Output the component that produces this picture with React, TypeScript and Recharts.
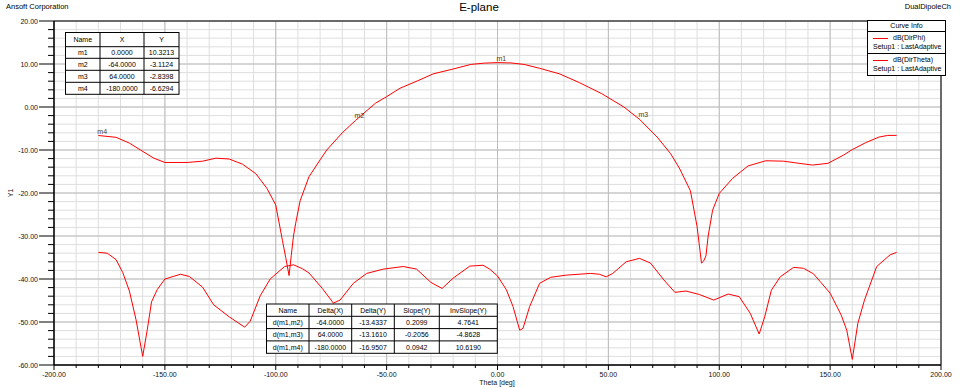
import React from 'react';
import { LineChart, Line, XAxis, YAxis, CartesianGrid, ReferenceArea, ReferenceDot, Legend } from 'recharts';

// dB(DirPhi)
const thetaPhi = [
  -180, -172, -166, -161, -155, -150, -140, -133, -127, -121, -115, -109, -104, -100, -97, -95.5, -94, -93, -92, -91,
  -89, -85, -80, -77, -70, -64, -55, -50, -44, -36, -29, -20, -12, -6, 0, 6, 12, 19, 28, 37,
  47, 57, 64, 72, 78, 82, 87, 90, 92, 93, 94, 95, 97, 100, 106, 113, 121, 129, 136, 142,
  149, 156, 160, 166, 172, 176, 180,
];
const dirPhi = [
  -6.63, -7.05, -8.4, -10.0, -11.9, -12.9, -12.9, -12.6, -11.9, -12.1, -13.3, -15.5, -18.9, -22.8, -31.0, -35.0, -39.2, -34.5, -30.0, -27.0,
  -21.8, -16.2, -12.3, -10.0, -6.0, -3.11, 0.9, 2.4, 4.35, 6.1, 7.7, 8.84, 9.9, 10.2, 10.32, 10.25, 9.9, 9.0, 7.7, 5.65,
  3.1, 0.0, -2.84, -7.0, -10.8, -14.2, -19.5, -27.8, -36.3, -35.8, -34.6, -30.0, -24.0, -20.1, -16.6, -13.7, -12.5, -12.6, -13.1, -13.5,
  -13.1, -11.2, -9.9, -8.3, -7.0, -6.6, -6.6,
];

// dB(DirTheta)
const thetaTheta = [
  -180, -176, -172, -169, -166, -163, -160, -158, -156, -153.5, -150, -143, -139, -133, -128, -121, -114, -111.5, -107, -102.5,
  -96, -92, -88, -85, -79, -74, -71, -65, -59, -51.5, -42.5, -36.5, -30, -25, -20, -12.5, -6.5, -3.5, 0, 4,
  7, 10, 11.5, 14.5, 19, 24, 31, 42, 46, 49, 52, 58, 64, 69, 75, 80, 85, 91, 97.5, 104,
  109, 114, 118, 120.5, 123.5, 127.5, 133.5, 138, 142.5, 145.5, 150, 155, 157.5, 160, 162.5, 165.5, 171, 177, 180,
];
const dirTheta = [
  -33.8, -34.0, -35.5, -38.5, -42.8, -49.5, -58.0, -52.0, -45.3, -42.5, -40.0, -38.9, -39.4, -41.9, -46.0, -48.8, -51.2, -49.8, -43.9, -40.0,
  -37.1, -36.7, -37.6, -38.6, -42.2, -45.6, -44.9, -41.0, -38.7, -37.7, -37.1, -37.7, -40.8, -42.2, -39.8, -37.0, -36.8, -37.7, -39.3, -42.5,
  -46.4, -51.9, -51.5, -46.4, -41.0, -39.6, -39.1, -38.7, -38.9, -39.5, -38.7, -36.0, -35.2, -36.3, -40.2, -43.1, -42.8, -43.6, -44.9, -43.5,
  -44.1, -48.0, -52.8, -48.8, -42.6, -39.5, -37.3, -37.5, -38.8, -40.6, -43.3, -48.4, -51.9, -58.7, -50.3, -44.9, -37.1, -34.4, -33.8,
];

// markers
const markerNames = ['m1', 'm2', 'm3', 'm4'];
const markerX = [0, -64, 64, -180];
const markerY = [10.3213, -3.1124, -2.8398, -6.6294];

// marker deltas
const deltaNames = ['d(m1,m2)', 'd(m1,m3)', 'd(m1,m4)'];
const deltaX = [-64, 64, -180];
const deltaY = [-13.4337, -13.161, -16.9507];
const slopeY = [0.2099, -0.2056, 0.0942];
const invSlopeY = [4.7641, -4.8628, 10.619];

const seriesNames = ['dB(DirPhi)', 'dB(DirTheta)'];
const setupLabels = ['Setup1 : LastAdaptive', 'Setup1 : LastAdaptive'];

const xMinor: number[] = [];
for (let v = -200; v <= 200; v += 10) xMinor.push(v);
const xMajor = [-200, -150, -100, -50, 0, 50, 100, 150, 200];
const yMinor: number[] = [];
for (let v = -60; v <= 20; v += 2) yMinor.push(v);
const yMajor = [-60, -50, -40, -30, -20, -10, 0, 10, 20];

const phiData = thetaPhi.map((t, i) => ({ theta: t, value: dirPhi[i] }));
const thetaData = thetaTheta.map((t, i) => ({ theta: t, value: dirTheta[i] }));

const FONT = '"Liberation Sans", Arial, sans-serif';
const RED = '#ff0000';

const XTick = (props: any) => {
  const { x, y, payload } = props;
  const v = payload.value;
  const major = v % 50 === 0;
  return (
    <g>
      <line x1={x} x2={x} y1={y} y2={y + (major ? 5 : 3)} stroke="#000" />
      {major && (
        <text x={x} y={y + 12} textAnchor="middle" fontSize={7} fill="#111" fontFamily={FONT}>
          {v.toFixed(2)}
        </text>
      )}
    </g>
  );
};

const YTick = (props: any) => {
  const { x, y, payload } = props;
  const v = payload.value;
  const major = v % 10 === 0;
  return (
    <g>
      <line x1={x - (major ? 15 : 6)} x2={x} y1={y} y2={y} stroke="#000" />
      {major && (
        <text x={x - 16} y={y + 2.5} textAnchor="end" fontSize={7} fill="#111" fontFamily={FONT}>
          {v.toFixed(2)}
        </text>
      )}
    </g>
  );
};

const CurveInfo = (props: any) => {
  const payload = props.payload || [];
  return (
    <div style={{ width: 77, border: '1px solid #000', background: '#fff', fontFamily: FONT, fontSize: 7, color: '#000' }}>
      <div style={{ height: 10, lineHeight: '10px', textAlign: 'center', borderBottom: '1px solid #000' }}>Curve Info</div>
      {payload.map((p: any, i: number) => (
        <div
          key={i}
          style={{ position: 'relative', height: 21, borderBottom: i < payload.length - 1 ? '1px solid #000' : 'none' }}
        >
          <div style={{ position: 'absolute', left: 5, top: 6, width: 15, height: 1, background: p.color }} />
          <div style={{ position: 'absolute', left: 25, top: 2, lineHeight: '8px', whiteSpace: 'nowrap' }}>{p.value}</div>
          <div style={{ position: 'absolute', left: 5, top: 11, lineHeight: '8px', whiteSpace: 'nowrap' }}>{setupLabels[i]}</div>
        </div>
      ))}
    </div>
  );
};

const markerLabel = (name: string) => (props: any) => {
  const vb = props.viewBox || {};
  return (
    <text x={vb.x} y={vb.y - 1} fontSize={7} fill="#5a3a10" fontFamily={FONT}>
      {name}
    </text>
  );
};

function Table({ colXs, rowYs, cells }: { colXs: number[]; rowYs: number[]; cells: string[][] }) {
  const x0 = colXs[0];
  const x1 = colXs[colXs.length - 1];
  const y0 = rowYs[0];
  const y1 = rowYs[rowYs.length - 1];
  return (
    <g>
      <rect x={x0} y={y0} width={x1 - x0} height={y1 - y0} fill="#fff" stroke="#000" />
      {colXs.slice(1, -1).map((cx, i) => (
        <line key={'c' + i} x1={cx} x2={cx} y1={y0} y2={y1} stroke="#000" />
      ))}
      {rowYs.slice(1, -1).map((ry, i) => (
        <line key={'r' + i} x1={x0} x2={x1} y1={ry} y2={ry} stroke="#000" />
      ))}
      {cells.map((row, r) =>
        row.map((txt, c) => (
          <text
            key={r + '-' + c}
            x={(colXs[c] + colXs[c + 1]) / 2}
            y={(rowYs[r] + rowYs[r + 1]) / 2 + 2.5}
            textAnchor="middle"
            fontSize={7}
            fill="#000"
            fontFamily={FONT}
          >
            {txt}
          </text>
        ))
      )}
    </g>
  );
}

const markerCells = [['Name', 'X', 'Y'], ...markerNames.map((n, i) => [n, markerX[i].toFixed(4), markerY[i].toFixed(4)])];
const deltaCells = [
  ['Name', 'Delta(X)', 'Delta(Y)', 'Slope(Y)', 'InvSlope(Y)'],
  ...deltaNames.map((n, i) => [n, deltaX[i].toFixed(4), deltaY[i].toFixed(4), slopeY[i].toFixed(4), invSlopeY[i].toFixed(4)]),
];

export default function App() {
  return (
    <div style={{ position: 'absolute', left: 0, top: 0, width: 960, height: 388, background: '#fff', fontFamily: FONT }}>
      <LineChart width={960} height={388} margin={{ top: 21, right: 19, bottom: 0, left: 0 }}>
        <CartesianGrid stroke="#dedede" horizontalValues={yMinor} verticalValues={xMinor} />
        <CartesianGrid stroke="#bcbcbc" horizontalValues={yMajor} verticalValues={xMajor} />
        <XAxis
          type="number"
          dataKey="theta"
          domain={[-200, 200]}
          ticks={xMinor}
          interval={0}
          height={23}
          tickSize={0}
          tickMargin={0}
          tickLine={false}
          tick={XTick}
          axisLine={{ stroke: '#000' }}
          allowDataOverflow
        />
        <YAxis
          type="number"
          domain={[-60, 20]}
          ticks={yMinor}
          interval={0}
          width={54}
          tickSize={0}
          tickMargin={0}
          tickLine={false}
          tick={YTick}
          axisLine={{ stroke: '#000' }}
          allowDataOverflow
        />
        <ReferenceArea x1={-200} x2={200} y1={-60} y2={20} fill="none" stroke="#000" strokeWidth={1} />
        <Line
          data={phiData}
          dataKey="value"
          name={seriesNames[0]}
          type="linear"
          stroke={RED}
          strokeWidth={1}
          dot={false}
          activeDot={false}
          isAnimationActive={false}
        />
        <Line
          data={thetaData}
          dataKey="value"
          name={seriesNames[1]}
          type="linear"
          stroke={RED}
          strokeWidth={1}
          dot={false}
          activeDot={false}
          isAnimationActive={false}
        />
        {markerNames.map((n, i) => (
          <ReferenceDot key={n} x={markerX[i]} y={markerY[i]} r={1} fill="none" stroke="none" label={markerLabel(n)} />
        ))}
        <Legend
          layout="horizontal"
          verticalAlign="middle"
          align="center"
          content={CurveInfo}
          wrapperStyle={{ position: 'absolute', left: 867, top: 20, width: 79, height: 56 }}
        />
      </LineChart>
      <svg width={960} height={388} style={{ position: 'absolute', left: 0, top: 0, pointerEvents: 'none' }}>
        <text x={6} y={9} fontSize={7.5} fill="#000" fontFamily={FONT}>Ansoft Corporation</text>
        <text x={479} y={11} fontSize={11.5} textAnchor="middle" fill="#000" fontFamily={FONT}>E-plane</text>
        <text x={951} y={9} fontSize={7.5} textAnchor="end" fill="#000" fontFamily={FONT}>DualDipoleCh</text>
        <text x={497} y={384.5} fontSize={7} textAnchor="middle" fill="#111" fontFamily={FONT}>Theta [deg]</text>
        <text x={12.5} y={193} fontSize={7} textAnchor="middle" fill="#111" fontFamily={FONT} transform="rotate(-90 12.5 193)">Y1</text>
        <Table colXs={[65.5, 100, 144, 179]} rowYs={[32.5, 46.7, 58.3, 70.3, 82.3, 94.3]} cells={markerCells} />
        <Table colXs={[266.5, 309, 351.7, 394.3, 439.3, 497.3]} rowYs={[304, 316.3, 328.6, 340.9, 353.3]} cells={deltaCells} />
      </svg>
    </div>
  );
}
